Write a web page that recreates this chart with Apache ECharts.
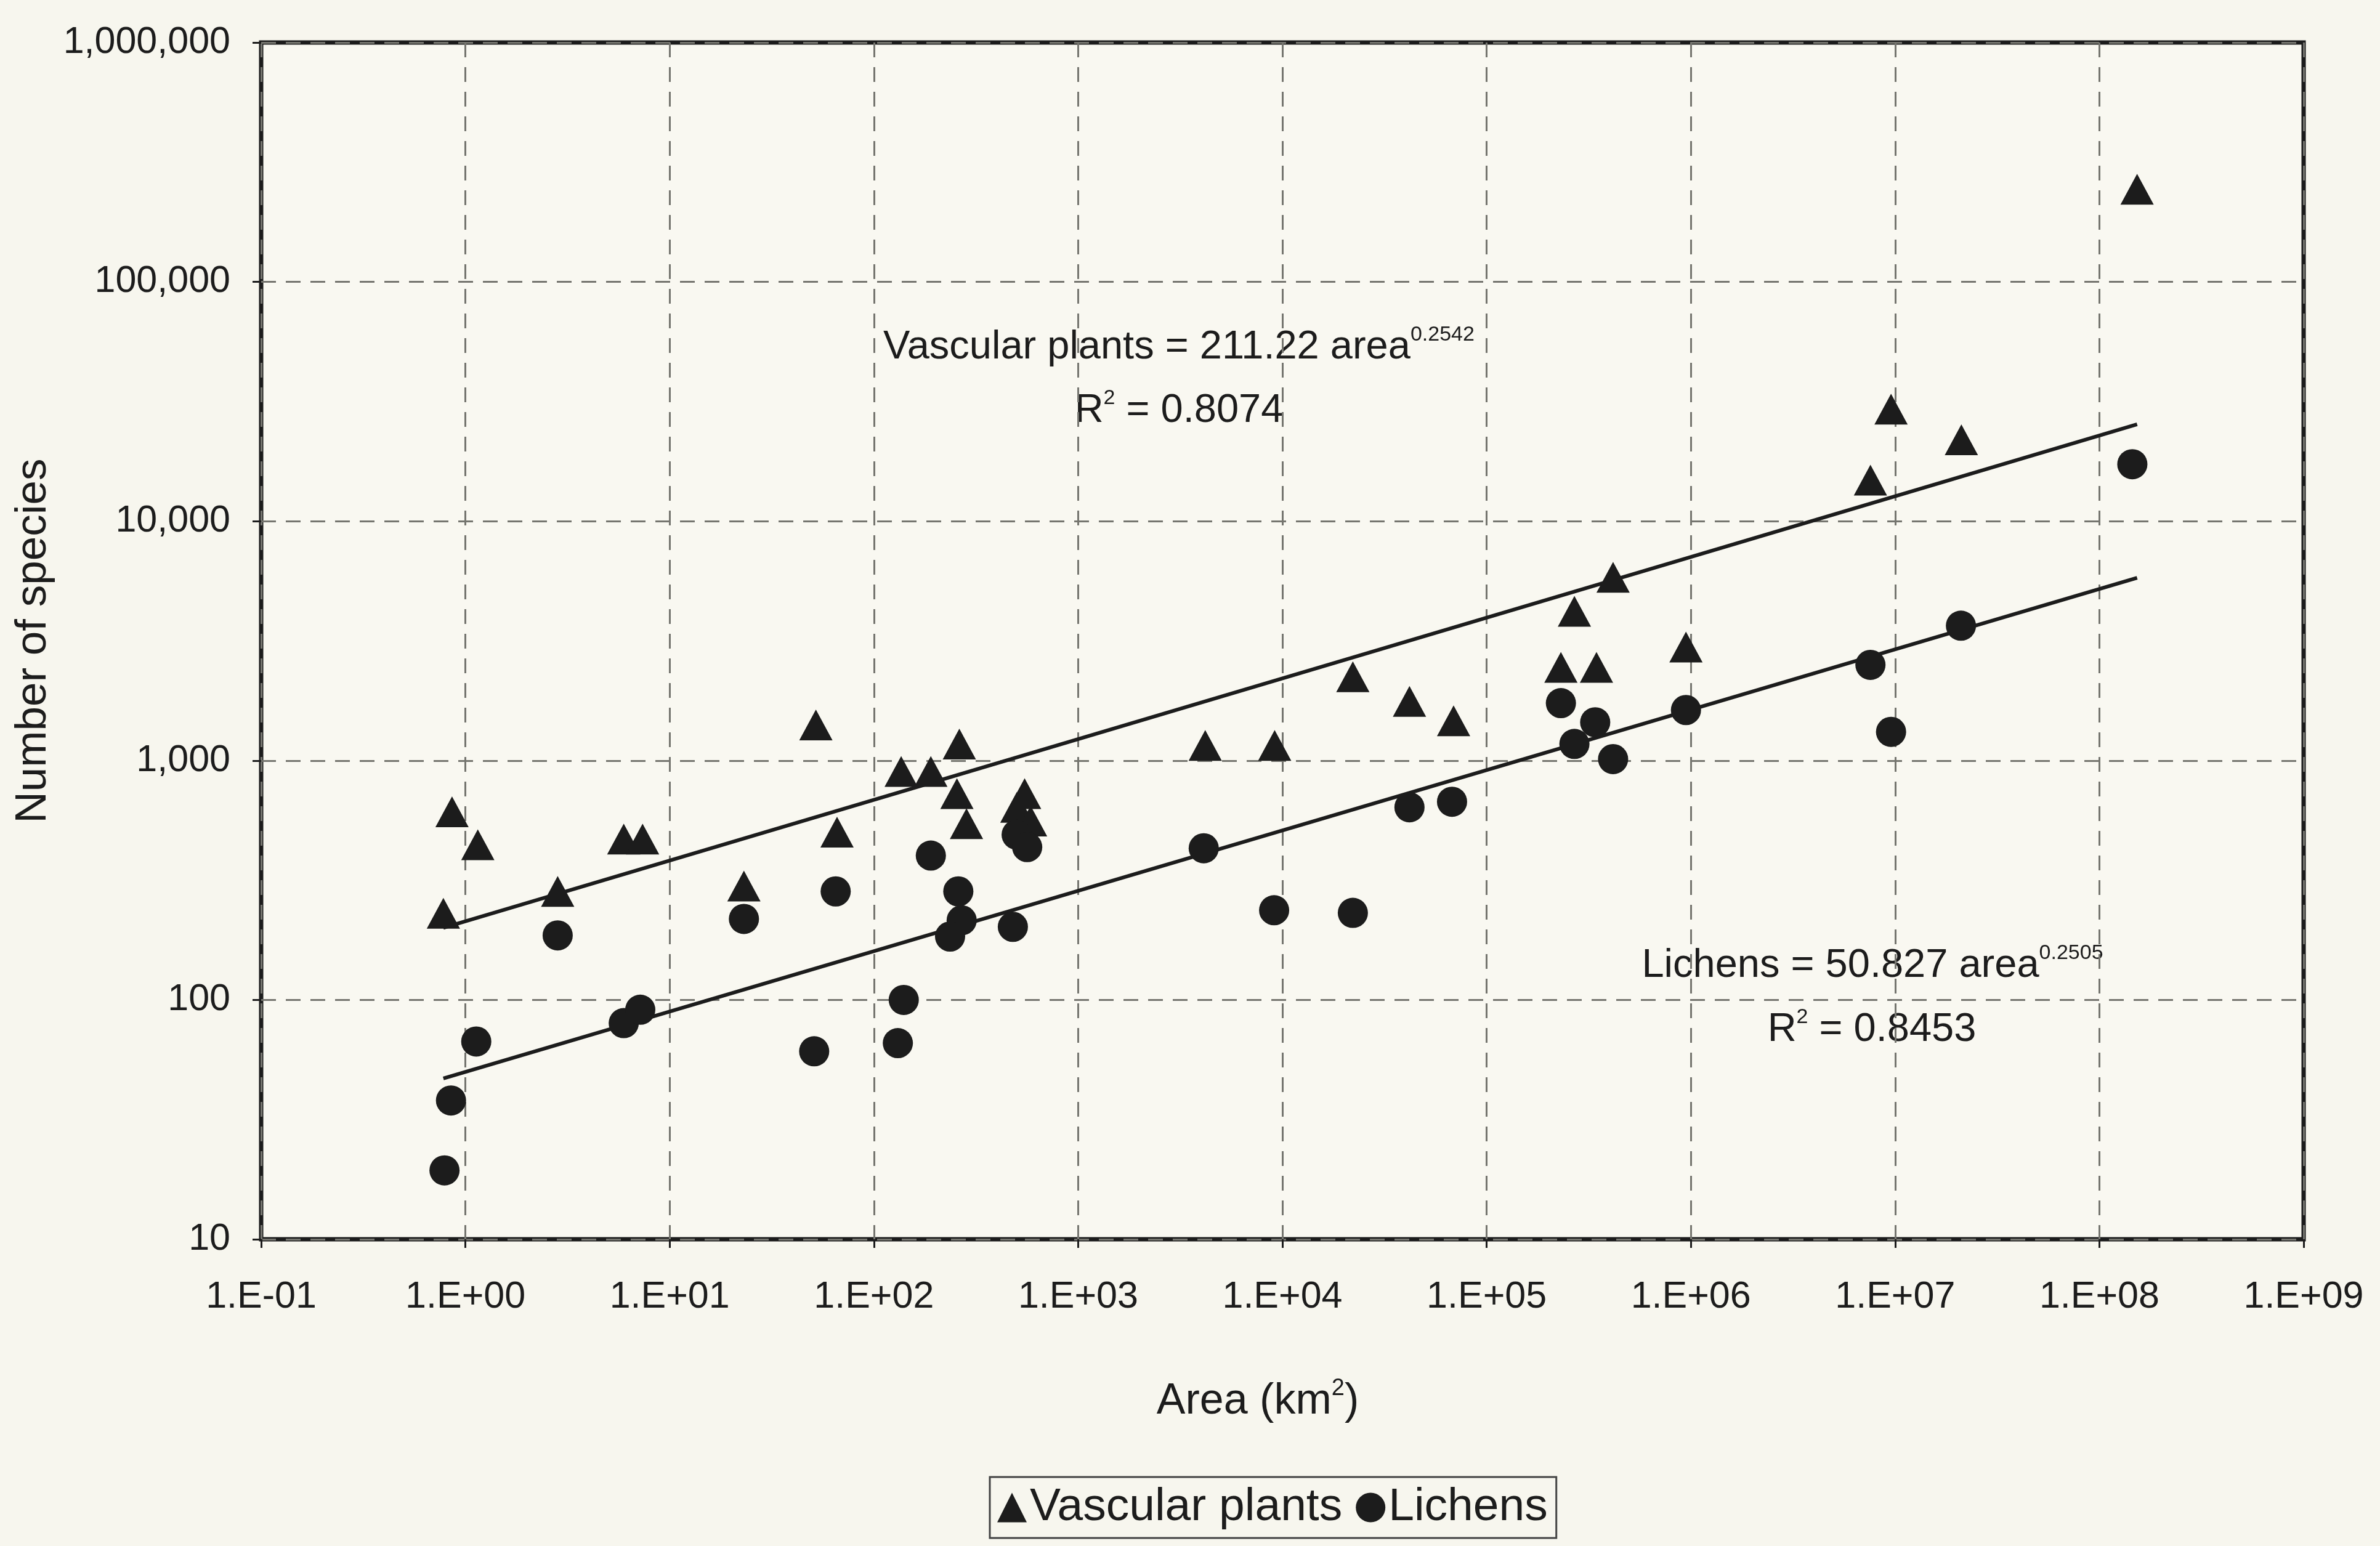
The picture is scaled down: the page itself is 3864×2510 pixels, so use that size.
<!DOCTYPE html>
<html lang="en">

<head>
    <meta charset="UTF-8">
    <title>Species-area</title>
    <script src="https://cdn.jsdelivr.net/npm/echarts@6/dist/echarts.min.js"></script>
    <style>
        html, body { margin: 0; padding: 0; background: #f7f6ee; }
    </style>
</head>

<body>
    <div id="main" style="width: 3864px;height:2510px;"></div>
    <script>
        // values (area in km2, number of species)
        var vascArea = [0.86, 1.15, 0.78, 2.83, 5.96, 7.37, 23.1, 52, 66, 136, 190, 262, 255, 284, 501, 547, 585,
            4190, 9165, 22130, 41900, 68900, 231000, 345000, 269000, 416000, 946000, 7.57e6, 9.55e6, 2.11e7, 1.53e8];
        var vascSpecies = [611, 445, 230, 284, 470, 470, 299, 1409, 502, 900, 900, 1172, 728, 545, 638, 728, 559,
            1157, 1157, 2240, 1766, 1467, 2450, 2450, 4200, 5830, 2980, 14840, 29400, 21900, 243700];

        var lichArea = [0.85, 0.79, 1.13, 2.83, 5.96, 7.18, 23.1, 65, 51, 140, 131, 190, 259, 269, 236, 479, 500, 563,
            4120, 9110, 22130, 41900, 67700, 231000, 269000, 340000, 416000, 946000, 7.57e6, 9.55e6, 2.1e7, 1.45e8];
        var lichSpecies = [38, 19.4, 67, 186, 80, 91, 218, 284, 61, 100, 66, 401, 284, 215, 184, 202, 490, 435,
            430, 237, 231, 638, 673, 1738, 1173, 1445, 1014, 1626, 2510, 1318, 3660, 17300];

        // power-law trend lines, end points
        var vascTrendArea = [0.78, 1.53e8];
        var vascTrendSpecies = [200, 25400];
        var lichTrendArea = [0.78, 1.53e8];
        var lichTrendSpecies = [47, 5800];

        var ink = '#1c1c1c';
        var font = 'Liberation Sans, Arial, sans-serif';

        function pairs(xs, ys) {
            return xs.map((x, i) => [x, ys[i]]);
        }

        function expLabel(v) {
            var e = Math.round(Math.log10(v));
            var s = e < 0 ? '-' : '+';
            var a = Math.abs(e);
            return '1.E' + s + (a < 10 ? '0' + a : a);
        }

        var supRich = {
            m: { fontSize: 65, lineHeight: 74, fontFamily: font, color: ink },
            s: { fontSize: 34, lineHeight: 34, verticalAlign: 'top', fontFamily: font, color: ink }
        };

        function note(x, y, text) {
            return {
                type: 'text', x: x, y: y,
                style: {
                    text: text,
                    align: 'center', verticalAlign: 'middle',
                    fill: ink,
                    rich: supRich
                }
            };
        }

        var myChart = echarts.init(document.getElementById('main'));

        var gridLine = { show: true, lineStyle: { color: '#75756f', width: 3, type: [24, 16] } };

        option = {
            backgroundColor: '#f7f6ee',
            animation: false,
            textStyle: { fontFamily: font, color: ink },
            grid: {
                left: 424, top: 69, right: 124, bottom: 498,
                show: true, borderColor: ink, borderWidth: 7, backgroundColor: '#f9f8f1'
            },
            xAxis: {
                type: 'log',
                logBase: 10,
                min: 0.1,
                max: 1e9,
                interval: 1,
                splitNumber: 10,
                name: '{m|Area (km}{s|2}{m|)}',
                nameLocation: 'middle',
                nameGap: 224,
                nameTextStyle: {
                    color: ink, fontFamily: font, padding: [0, 80, 0, 0],
                    rich: {
                        m: { fontSize: 70, lineHeight: 80, fontFamily: font, color: ink },
                        s: { fontSize: 38, lineHeight: 40, verticalAlign: 'top', fontFamily: font, color: ink }
                    }
                },
                axisLine: { show: false },
                axisTick: { show: true, length: 14, lineStyle: { color: ink, width: 3 } },
                axisLabel: { fontSize: 61, color: ink, margin: 64, formatter: expLabel },
                splitLine: gridLine
            },
            yAxis: {
                type: 'log',
                logBase: 10,
                min: 10,
                max: 1e6,
                interval: 1,
                splitNumber: 5,
                name: 'Number of species',
                nameLocation: 'middle',
                nameGap: 334,
                nameTextStyle: { fontSize: 71, color: ink, fontFamily: font },
                axisLine: { show: false },
                axisTick: { show: true, length: 14, lineStyle: { color: ink, width: 3 } },
                axisLabel: {
                    fontSize: 61, color: ink, margin: 50,
                    formatter: v => Math.round(v).toLocaleString('en-US')
                },
                splitLine: gridLine
            },
            legend: {
                data: ['Vascular plants', 'Lichens'],
                left: 1607,
                top: 2398,
                orient: 'horizontal',
                padding: [12, 14, 12, 12],
                borderColor: '#444',
                borderWidth: 3,
                itemGap: 22,
                itemWidth: 48,
                itemHeight: 48,
                textStyle: { fontSize: 75, color: ink, fontFamily: font }
            },
            graphic: [
                note(1914, 564, '{m|Vascular plants = 211.22 area}{s|0.2542}'),
                note(1914, 667, '{m|R}{s|2}{m| = 0.8074}'),
                note(3040, 1568, '{m|Lichens = 50.827 area}{s|0.2505}'),
                note(3039, 1672, '{m|R}{s|2}{m| = 0.8453}')
            ],
            series: [
                {
                    name: 'Vascular trend',
                    type: 'line',
                    data: pairs(vascTrendArea, vascTrendSpecies),
                    symbol: 'none',
                    lineStyle: { color: ink, width: 6 },
                    z: 3
                },
                {
                    name: 'Lichens trend',
                    type: 'line',
                    data: pairs(lichTrendArea, lichTrendSpecies),
                    symbol: 'none',
                    lineStyle: { color: ink, width: 6 },
                    z: 3
                },
                {
                    name: 'Vascular plants',
                    type: 'scatter',
                    symbol: 'triangle',
                    symbolSize: [54, 50],
                    data: pairs(vascArea, vascSpecies),
                    itemStyle: { color: ink, opacity: 1 },
                    z: 4
                },
                {
                    name: 'Lichens',
                    type: 'scatter',
                    symbol: 'circle',
                    symbolSize: 49,
                    data: pairs(lichArea, lichSpecies),
                    itemStyle: { color: ink, opacity: 1 },
                    z: 4
                }
            ]
        };

        myChart.setOption(option);
    </script>
</body>

</html>
